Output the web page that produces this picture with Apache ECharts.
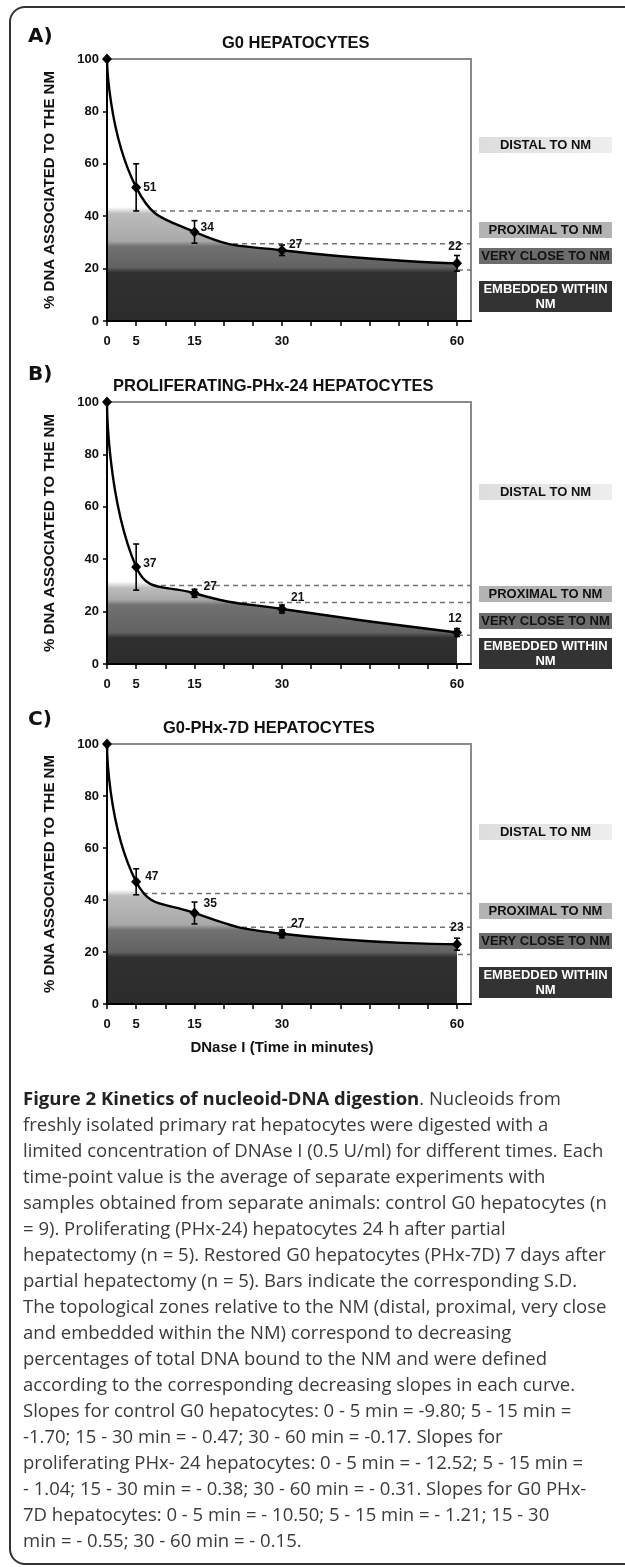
<!DOCTYPE html>
<html>
<head>
<meta charset="utf-8">
<script src="https://cdn.jsdelivr.net/npm/echarts@6/dist/echarts.min.js"></script>
<style>
html, body { margin: 0; padding: 0; background: #fff; }
#chart { width: 625px; height: 1567px; }
</style>
</head>
<body>
<div id="chart"></div>
<script>
// ---- data ----
const times = [0, 5, 15, 30, 60];
const xTickLabels = [0, 5, 15, 30, 60];
const xTickValues = [0, 5, 10, 15, 20, 25, 30, 35, 40, 45, 50, 55, 60];
const zoneNames = ['DISTAL TO NM', 'PROXIMAL TO NM', 'VERY CLOSE TO NM', 'EMBEDDED WITHIN\nNM'];

const g0Values = [100, 51, 34, 27, 22];
const g0Sd = [0, 9, 4.3, 2, 3];
const g0Zones = [42, 29.5, 19.5];

const phx24Values = [100, 37, 27, 21, 12];
const phx24Sd = [0, 8.8, 1.5, 1.5, 1.5];
const phx24Zones = [30, 23.5, 11];

const phx7dValues = [100, 47, 35, 27, 23];
const phx7dSd = [0, 5, 4.2, 1.5, 2.3];
const phx7dZones = [42.5, 29.5, 19];

const panels = [
  { letter: 'A)', title: 'G0 HEPATOCYTES', values: g0Values, sd: g0Sd, zones: g0Zones },
  { letter: 'B)', title: 'PROLIFERATING-PHx-24 HEPATOCYTES', values: phx24Values, sd: phx24Sd, zones: phx24Zones },
  { letter: 'C)', title: 'G0-PHx-7D HEPATOCYTES', values: phx7dValues, sd: phx7dSd, zones: phx7dZones }
];

const caption = [
  '{b|Figure 2 Kinetics of nucleoid-DNA digestion}. Nucleoids from',
  'freshly isolated primary rat hepatocytes were digested with a',
  'limited concentration of DNAse I (0.5 U/ml) for different times. Each',
  'time-point value is the average of separate experiments with',
  'samples obtained from separate animals: control G0 hepatocytes (n',
  '= 9). Proliferating (PHx-24) hepatocytes 24 h after partial',
  'hepatectomy (n = 5). Restored G0 hepatocytes (PHx-7D) 7 days after',
  'partial hepatectomy (n = 5). Bars indicate the corresponding S.D.',
  'The topological zones relative to the NM (distal, proximal, very close',
  'and embedded within the NM) correspond to decreasing',
  'percentages of total DNA bound to the NM and were defined',
  'according to the corresponding decreasing slopes in each curve.',
  'Slopes for control G0 hepatocytes: 0 - 5 min = -9.80; 5 - 15 min =',
  '-1.70; 15 - 30 min = - 0.47; 30 - 60 min = -0.17. Slopes for',
  'proliferating PHx- 24 hepatocytes: 0 - 5 min = - 12.52; 5 - 15 min =',
  '- 1.04; 15 - 30 min = - 0.38; 30 - 60 min = - 0.31. Slopes for G0 PHx-',
  '7D hepatocytes: 0 - 5 min = - 10.50; 5 - 15 min = - 1.21; 15 - 30',
  'min = - 0.55; 30 - 60 min = - 0.15.'
];

// ---- layout (pixels) ----
const X_MAX = 62.4;
const FONT = 'Liberation Sans, Arial, sans-serif';
const gridLeft = 107, gridWidth = 364;
const gridTops = [59, 402, 744];
const gridHeights = [262, 262, 260];
const titleLefts = [222, 113, 163];
const letterTops = [27, 365, 710];
const boxLeft = 479, boxWidth = 133;
const boxOffsets = [[78, 163, 189, 222], [82, 184, 211, 236], [80, 159, 189, 223]];
const boxHeights = [16, 16, 16, 31];
const boxColors = ['#e4e4e4', '#b3b3b3', '#6c6c6c', '#333333'];
const boxTextColors = ['#111', '#111', '#111', '#fff'];
// per point label offsets: points 1-3 to the right, last one on top
const labelOffsets = [
  [[0, 0], [-1, -4], [0, -6], [-2, 0]],
  [[0, -3], [2, -7], [2, -11], [-2, 3]],
  [[2, -5], [2, -9], [2, -10], [0, 0]]
];

function zoneGradient(top, height, lv) {
  const off = v => Math.min(1, Math.max(0, 1 - v / 100));
  return {
    type: 'linear', x: 0, y: top, x2: 0, y2: top + height, global: true,
    colorStops: [
      { offset: 0, color: '#ffffff' },
      { offset: off(lv[0] + 1.5), color: '#ffffff' },
      { offset: off(lv[0] - 1), color: '#bcbcbc' },
      { offset: off(lv[1] + 1), color: '#a8a8a8' },
      { offset: off(lv[1] - 1), color: '#717171' },
      { offset: off(lv[2] + 1), color: '#626262' },
      { offset: off(lv[2] - 1), color: '#303030' },
      { offset: 1, color: '#2c2c2c' }
    ]
  };
}

function renderDash(params, api) {
  const lv = api.value(1);
  const a = api.coord([0, lv]);
  const b = api.coord([X_MAX, lv]);
  return {
    type: 'line',
    shape: { x1: a[0], y1: a[1], x2: b[0], y2: b[1] },
    style: { stroke: '#707070', lineWidth: 1.5, lineDash: [5, 4] }
  };
}

function renderErrorBar(params, api) {
  const x = api.value(0);
  const hi = api.coord([x, api.value(2)]);
  const lo = api.coord([x, api.value(1)]);
  const cw = 3;
  const style = { stroke: '#000', lineWidth: 1.6 };
  return {
    type: 'group',
    children: [
      { type: 'line', shape: { x1: hi[0], y1: hi[1], x2: lo[0], y2: lo[1] }, style: style },
      { type: 'line', shape: { x1: hi[0] - cw, y1: hi[1], x2: hi[0] + cw, y2: hi[1] }, style: style },
      { type: 'line', shape: { x1: lo[0] - cw, y1: lo[1], x2: lo[0] + cw, y2: lo[1] }, style: style }
    ]
  };
}

const grids = [], xAxes = [], yAxes = [], titles = [], series = [], graphics = [];

panels.forEach((p, i) => {
  const top = gridTops[i], height = gridHeights[i];
  grids.push({
    left: gridLeft, top: top, width: gridWidth, height: height,
    show: true, borderColor: '#8a8a8a', borderWidth: 2, backgroundColor: 'transparent'
  });
  xAxes.push({
    gridIndex: i, type: 'value', min: 0, max: X_MAX, z: 5,
    axisLine: { lineStyle: { color: '#000', width: 2 } },
    axisTick: { show: true, customValues: xTickValues, length: 5, lineStyle: { color: '#000', width: 1.5 } },
    axisLabel: { customValues: xTickLabels, margin: 14, fontFamily: FONT, fontWeight: 'bold', fontSize: 13, color: '#111' },
    splitLine: { show: false },
    name: i === 2 ? 'DNase I (Time in minutes)' : '',
    nameLocation: 'middle', nameGap: 36,
    nameTextStyle: { fontFamily: FONT, fontWeight: 'bold', fontSize: 15, color: '#111', padding: [0, 14, 0, 0] }
  });
  yAxes.push({
    gridIndex: i, type: 'value', min: 0, max: 100, interval: 20, z: 5,
    axisLine: { show: true, lineStyle: { color: '#000', width: 2 } },
    axisTick: { show: true, length: 4, lineStyle: { color: '#000', width: 1.5 } },
    axisLabel: { margin: 8, fontFamily: FONT, fontWeight: 'bold', fontSize: 13, color: '#111' },
    splitLine: { show: false },
    name: '% DNA ASSOCIATED TO THE NM', nameLocation: 'middle', nameGap: 50,
    nameTextStyle: { fontFamily: FONT, fontWeight: 'bold', fontSize: 15, color: '#111' }
  });
  titles.push({
    text: p.title, left: titleLefts[i], top: top - 24, padding: 0,
    textStyle: { fontFamily: FONT, fontWeight: 'bold', fontSize: 16.5, color: '#111' }
  });

  // dashed zone limits (drawn below the shaded area)
  series.push({
    type: 'custom', xAxisIndex: i, yAxisIndex: i, z: 1, silent: true,
    data: p.zones.map(v => [X_MAX, v]),
    encode: { x: 0, y: 1 },
    renderItem: renderDash
  });

  // curve with shaded zones
  const offs = labelOffsets[i];
  series.push({
    type: 'line', xAxisIndex: i, yAxisIndex: i, z: 2,
    smooth: 0.5,
    symbol: 'diamond', symbolSize: [10, 11],
    itemStyle: { color: '#000' },
    lineStyle: { color: '#000', width: 2.4 },
    areaStyle: { color: zoneGradient(top, height, p.zones), opacity: 1 },
    label: {
      show: true, fontFamily: FONT, fontWeight: 'bold', fontSize: 12, color: '#111',
      formatter: d => d.value[1]
    },
    data: times.map((t, k) => {
      const item = { value: [t, p.values[k]] };
      if (k === 0) item.label = { show: false };
      else if (k === times.length - 1) item.label = { position: 'top', distance: 5, offset: offs[k - 1] };
      else item.label = { position: 'right', distance: 2, offset: offs[k - 1] };
      return item;
    })
  });

  // S.D. bars
  series.push({
    type: 'custom', xAxisIndex: i, yAxisIndex: i, z: 3, silent: true,
    data: times.map((t, k) => [t, p.values[k] - p.sd[k], p.values[k] + p.sd[k]]).filter((d, k) => p.sd[k] > 0),
    encode: { x: 0, y: [1, 2] },
    renderItem: renderErrorBar
  });

  // panel letter
  graphics.push({
    type: 'text', left: 28, top: letterTops[i],
    style: { text: p.letter, font: '900 20px "DejaVu Sans", sans-serif', fill: '#111' }
  });

  // zone boxes on the right
  zoneNames.forEach((name, k) => {
    graphics.push({
      type: 'group', left: boxLeft, top: top + boxOffsets[i][k],
      children: [
        {
          type: 'rect', shape: { x: 0, y: 0, width: boxWidth, height: boxHeights[k] },
          style: {
            fill: k === 0
              ? { type: 'linear', x: 0, y: 0, x2: 1, y2: 0, colorStops: [{ offset: 0, color: '#dddddd' }, { offset: 1, color: '#eeeeee' }] }
              : boxColors[k]
          }
        },
        {
          type: 'text', x: boxWidth / 2, y: boxHeights[k] / 2,
          style: {
            text: name, align: 'center', verticalAlign: 'middle', lineHeight: 15,
            font: 'bold 13px ' + FONT, fill: boxTextColors[k]
          }
        }
      ]
    });
  });
});

// outer frame (right side runs off the page)
graphics.push({
  type: 'rect', z: -1,
  shape: { x: 10, y: 7, width: 660, height: 1557, r: 15 },
  style: { fill: 'none', stroke: '#333', lineWidth: 2 }
});

// caption
graphics.push({
  type: 'text', left: 23, top: 1087,
  style: {
    text: caption.join('\n'),
    font: '18.5px "Open Sans", sans-serif',
    fill: '#3a3a3a', lineHeight: 26,
    rich: {
      b: { fontFamily: 'Open Sans', fontWeight: 'bold', fontSize: 18.5, lineHeight: 26, fill: '#222' }
    }
  }
});

const chart = echarts.init(document.getElementById('chart'));
chart.setOption({
  animation: false,
  backgroundColor: '#fff',
  title: titles,
  grid: grids,
  xAxis: xAxes,
  yAxis: yAxes,
  series: series,
  graphic: { elements: graphics }
});
</script>
</body>
</html>
